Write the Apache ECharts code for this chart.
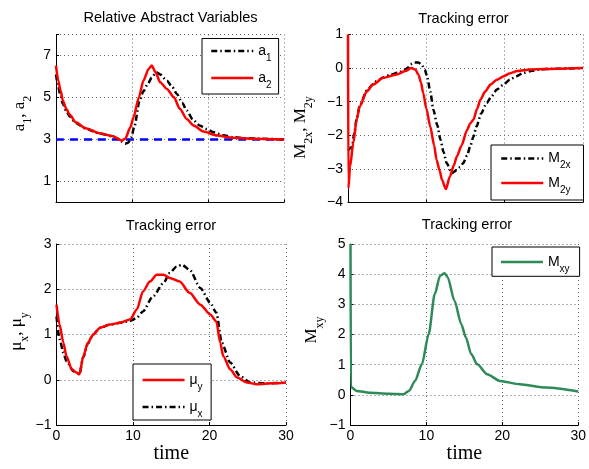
<!DOCTYPE html>
<html>
<head>
<meta charset="utf-8">
<script src="https://cdn.jsdelivr.net/npm/echarts@6/dist/echarts.min.js"></script>
<style>
  html, body { margin: 0; padding: 0; background: #fff; }
  #chart { width: 589px; height: 469px; }
</style>
</head>
<body>
<div id="chart"></div>
<script>
// ---- data ----
var xTicks = [0, 10, 20, 30];

// top left: relative abstract variables
var tA2 = [0, 0.3, 0.6, 0.9, 1.35, 1.8, 2.6, 3.9, 5.7, 7.5, 8.2, 8.6, 9.1, 9.8, 10.2, 10.9, 11.5, 12.2, 12.6, 13.1, 13.7, 14.6, 15.5, 16.3, 17.2, 18.1, 19.4, 21.2, 23.3, 26, 30];
var a2 = [6.52, 5.8, 5.33, 4.86, 4.46, 4.19, 3.82, 3.54, 3.3, 3.16, 3.03, 2.95, 3.03, 3.59, 4.06, 5.0, 5.8, 6.37, 6.52, 6.2, 5.73, 5.41, 5.02, 4.46, 3.98, 3.67, 3.38, 3.19, 3.08, 3.03, 3.0];
var tA1 = [0, 0.3, 0.6, 0.9, 1.35, 1.8, 2.6, 3.9, 5.7, 7.5, 8.2, 8.6, 9.1, 9.5, 9.9, 10.3, 11, 11.5, 12.1, 12.6, 13.2, 13.7, 14.6, 15.3, 15.9, 16.6, 17.2, 18, 18.9, 19.8, 20.7, 22, 23.3, 25, 26.5, 30];
var a1 = [6.1, 5.5, 5.05, 4.7, 4.35, 4.1, 3.78, 3.52, 3.29, 3.15, 3.02, 2.9, 2.8, 2.85, 3.1, 3.6, 4.86, 5.3, 5.66, 5.95, 6.2, 6.1, 5.8, 5.5, 5.17, 4.75, 4.38, 3.95, 3.67, 3.5, 3.35, 3.2, 3.11, 3.06, 3.04, 3.0];
var tRef = [0, 30];
var aRef = [3, 3];
var yTicksA = [1, 3, 5, 7];

// top right: M2x, M2y
var tM2y = [0, 0.05, 0.26, 0.68, 1.1, 1.5, 2.4, 3.2, 4.5, 6.2, 7.3, 8.1, 8.6, 9.0, 9.3, 9.6, 10.0, 10.5, 11.0, 11.3, 11.7, 12.0, 12.5, 13.0, 13.5, 13.9, 14.5, 15.2, 15.6, 16.0, 16.5, 16.9, 17.5, 18.2, 19.0, 19.9, 20.7, 21.6, 23.3, 25, 26.7, 30];
var m2y = [1, -3.58, -2.93, -2.23, -1.54, -1.14, -0.69, -0.49, -0.29, -0.19, -0.09, 0.0, -0.04, -0.2, -0.42, -0.74, -1.2, -1.74, -2.3, -2.73, -3.05, -3.33, -3.6, -3.23, -2.9, -2.63, -2.3, -1.84, -1.65, -1.54, -1.2, -0.94, -0.7, -0.49, -0.35, -0.24, -0.15, -0.09, -0.04, -0.03, -0.02, 0];
var tM2x = [0, 0.5, 0.8, 1.1, 1.5, 2.4, 3.2, 3.7, 4.5, 5.4, 6.3, 7.1, 7.6, 8.0, 8.5, 9.0, 9.4, 9.8, 10.1, 10.5, 10.9, 11.4, 11.8, 12.2, 12.6, 13.25, 13.9, 14.3, 14.7, 15.2, 15.6, 16.0, 16.4, 17.0, 17.7, 18.3, 19.0, 19.8, 20.7, 21.5, 22.4, 23.5, 24.5, 26, 30];
var m2x = [-2.45, -2.35, -1.95, -1.52, -1.12, -0.67, -0.48, -0.38, -0.28, -0.2, -0.14, -0.08, 0.0, 0.12, 0.17, 0.17, 0.1, -0.05, -0.24, -0.7, -1.24, -1.7, -2.13, -2.5, -2.83, -3.13, -3.03, -2.95, -2.83, -2.6, -2.33, -2.05, -1.74, -1.35, -1.04, -0.85, -0.64, -0.5, -0.34, -0.24, -0.14, -0.08, -0.04, -0.02, 0];

// bottom left: mu x, mu y
var tMuY = [0, 0.4, 0.9, 1.3, 2.0, 2.6, 3.0, 3.5, 4.1, 4.8, 5.7, 7.0, 8.3, 9.6, 10.5, 11.3, 12.2, 13.1, 14.0, 14.8, 16.1, 17.4, 18.8, 20.1, 20.9, 21.4, 21.8, 22.7, 23.6, 24.9, 26.2, 28.3, 30];
var muY = [1.66, 1.22, 0.82, 0.52, 0.23, 0.16, 0.12, 0.52, 0.82, 1.0, 1.15, 1.22, 1.26, 1.33, 1.55, 1.95, 2.17, 2.32, 2.32, 2.25, 2.17, 1.92, 1.66, 1.44, 1.29, 0.82, 0.52, 0.23, 0.05, -0.06, -0.1, -0.08, -0.06];
var tMuX = [0, 0.4, 0.9, 1.3, 2.2, 2.8, 3.0, 3.5, 4.1, 4.8, 5.7, 7.0, 8.3, 9.6, 10.5, 11.3, 12.6, 14.0, 14.8, 15.7, 16.4, 17.4, 18.8, 20.1, 20.9, 21.6, 22.7, 24.0, 25.3, 27.5, 30];
var muX = [1.4, 0.9, 0.6, 0.41, 0.19, 0.14, 0.12, 0.5, 0.8, 1.0, 1.15, 1.22, 1.26, 1.3, 1.37, 1.51, 1.84, 2.14, 2.36, 2.5, 2.54, 2.43, 2.03, 1.7, 1.48, 0.82, 0.38, 0.08, -0.06, -0.08, -0.06];

// bottom right: Mxy
var tMxy = [0, 0.05, 0.8, 2.5, 5.1, 7.0, 7.7, 8.5, 9.4, 10.3, 11.1, 11.8, 12.4, 12.8, 13.7, 14.6, 15.2, 15.9, 16.7, 18.0, 19.7, 22.3, 25.8, 30];
var mxy = [5, 0.26, 0.13, 0.07, 0.04, 0.02, 0.13, 0.46, 1.01, 2.01, 3.34, 3.95, 4.03, 3.9, 3.12, 2.34, 1.9, 1.35, 1.01, 0.68, 0.46, 0.35, 0.24, 0.11];

function zip(t, v) {
  return t.map(function (x, i) { return [x, v[i]]; });
}

var sans = "'Liberation Sans', Arial, sans-serif";
var serif = "'Liberation Serif', 'Times New Roman', serif";
var dashDot = [6, 3, 1.5, 3];

var grids = [
  { left: 56, top: 34.5, width: 228, height: 168 },
  { left: 348, top: 34.5, width: 235, height: 168 },
  { left: 56.5, top: 244, width: 229.5, height: 181 },
  { left: 350.5, top: 244, width: 232, height: 181 }
];

function minus(v) { return String(v).replace('-', '\u2212'); }

function xAxis(idx, showLabel) {
  return {
    type: 'value', gridIndex: idx, min: 0, max: 30, interval: 10,
    axisLine: { onZero: false, lineStyle: { color: '#000', width: 1 } },
    axisTick: { inside: true, length: 3, lineStyle: { color: '#000' } },
    axisLabel: { show: showLabel, color: '#000', fontSize: 14, fontFamily: sans, margin: 4 },
    splitLine: { show: true, lineStyle: { color: '#666', type: [1, 3], width: 1 } },
    name: showLabel ? 'time' : '',
    nameLocation: 'middle', nameGap: 18,
    nameTextStyle: { fontFamily: serif, fontSize: 20, color: '#000' }
  };
}

// subscripts: the small token is pushed down with top padding
var nameRich = {
  m: { fontFamily: serif, fontSize: 17, color: '#000', lineHeight: 18, verticalAlign: 'middle' },
  s: { fontFamily: serif, fontSize: 12, color: '#000', lineHeight: 18, verticalAlign: 'middle', padding: [16, 0, 0, 0] }
};

function yAxis(idx, min, max, interval, name, gap, pad) {
  return {
    type: 'value', gridIndex: idx, min: min, max: max, interval: interval,
    axisLine: { show: true, onZero: false, lineStyle: { color: '#000', width: 1 } },
    axisTick: { show: true, inside: true, length: 3, lineStyle: { color: '#000' } },
    axisLabel: { color: '#000', fontSize: 14, fontFamily: sans, margin: 5, formatter: minus },
    splitLine: { show: true, lineStyle: { color: '#666', type: [1, 3], width: 1 } },
    name: name, nameLocation: 'middle', nameGap: gap, nameRotate: 90,
    nameTextStyle: { fontFamily: serif, fontSize: 17, rich: nameRich, padding: pad }
  };
}

var yA = yAxis(0, 0, 8, 1, '{m|a}{s|1}{m|, a}{s|2}', 27, [0, 0, 0, 10]);
yA.axisTick.customValues = [0, 1, 3, 5, 7, 8];
yA.axisLabel.customValues = yTicksA;

var legendNames = {
  'a1': '{m|a}{s|1}', 'a2': '{m|a}{s|2}',
  'M2x': '{m|M}{s|2x}', 'M2y': '{m|M}{s|2y}',
  'μx': '{m|μ}{s|x}', 'μy': '{m|μ}{s|y}',
  'Mxy': '{m|M}{s|xy}'
};

function legend(names, left, top, padding, gap) {
  return {
    data: names, orient: 'vertical', left: left, top: top,
    padding: padding, itemGap: gap, itemWidth: 42, itemHeight: 14,
    borderColor: '#000', borderWidth: 1, backgroundColor: '#fff',
    selectedMode: false,
    itemStyle: { opacity: 0 },
    lineStyle: { width: 2.5 },
    formatter: function (n) { return legendNames[n]; },
    textStyle: {
      rich: {
        m: { fontFamily: sans, fontSize: 14, color: '#000', lineHeight: 16, verticalAlign: 'middle' },
        s: { fontFamily: sans, fontSize: 10, color: '#000', lineHeight: 16, verticalAlign: 'middle', padding: [14, 0, 0, 0] }
      }
    }
  };
}

function line(name, xi, t, v, color, dash) {
  return {
    name: name, type: 'line', xAxisIndex: xi, yAxisIndex: xi,
    data: zip(t, v), symbol: 'none', smooth: 0.25, smoothMonotone: 'x',
    lineStyle: { color: color, width: 2.5, type: dash || 'solid' },
    itemStyle: { color: color }
  };
}

var titleStyle = { fontFamily: sans, fontSize: 14.6, fontWeight: 'normal', color: '#000' };

var option = {
  animation: false,
  backgroundColor: '#fff',
  title: [
    { text: 'Relative Abstract Variables', left: 170.5, top: 10, textAlign: 'center', padding: 0, textStyle: titleStyle },
    { text: 'Tracking error', left: 463.5, top: 11.5, textAlign: 'center', padding: 0, textStyle: titleStyle },
    { text: 'Tracking error', left: 171, top: 218.5, textAlign: 'center', padding: 0, textStyle: titleStyle },
    { text: 'Tracking error', left: 467, top: 217.5, textAlign: 'center', padding: 0, textStyle: titleStyle }
  ],
  legend: [
    legend(['a1', 'a2'], 202, 38.5, [0.5, 7, 4, 8], 3),
    legend(['M2x', 'M2y'], 491, 145, [1.5, 13, 5, 9], 0.5),
    legend(['μy', 'μx'], 133, 364, [4, 8.5, 1, 8.3], 3),
    legend(['Mxy'], 492, 247, [3, 10, 2.3, 7.7], 0)
  ],
  grid: grids,
  xAxis: [xAxis(0, false), xAxis(1, false), xAxis(2, true), xAxis(3, true)],
  yAxis: [
    yA,
    yAxis(1, -4, 1, 1, '{m|M}{s|2x}{m|, M}{s|2y}', 38, [0, 18, 0, 0]),
    yAxis(2, -1, 3, 1, '{m|μ}{s|x}{m|, μ}{s|y}', 31, [0, 0, 0, 6]),
    yAxis(3, -1, 5, 1, '{m|M}{s|xy}', 28, [0, 0, 0, 9])
  ],
  series: [
    line('ref', 0, tRef, aRef, '#0000ff', [8, 6]),
    line('a1', 0, tA1, a1, '#000', dashDot),
    line('a2', 0, tA2, a2, '#ff0000'),
    line('M2x', 1, tM2x, m2x, '#000', dashDot),
    line('M2y', 1, tM2y, m2y, '#ff0000'),
    line('μx', 2, tMuX, muX, '#000', dashDot),
    line('μy', 2, tMuY, muY, '#ff0000'),
    line('Mxy', 3, tMxy, mxy, '#2e8b57')
  ]
};

var chart = echarts.init(document.getElementById('chart'));
chart.setOption(option);
</script>
</body>
</html>
